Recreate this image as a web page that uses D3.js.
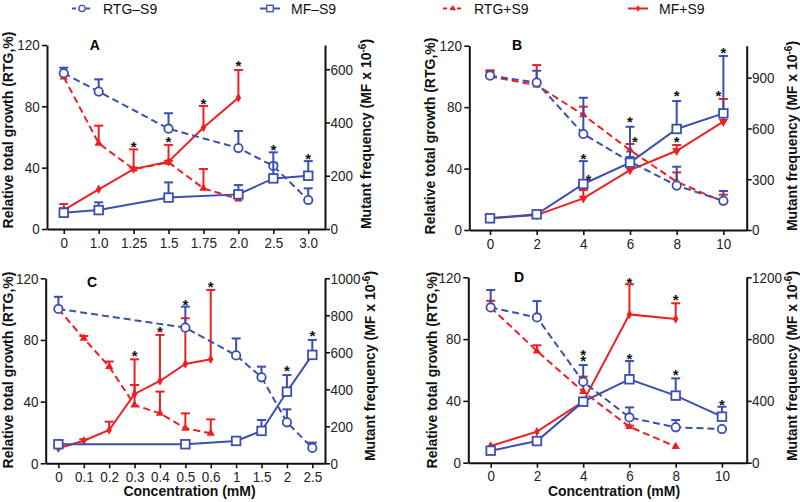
<!DOCTYPE html>
<html><head><meta charset="utf-8">
<script src="https://cdn.jsdelivr.net/npm/d3@7"></script>
<style>
html,body{margin:0;padding:0;background:#fff;}
svg{display:block;}
</style>
</head><body>
<svg id="chart" width="800" height="502"></svg>
<script>
// ---------------- DATA ----------------
// Panel A (categorical concentrations)
const concA = ["0","1.0","1.25","1.5","1.75","2.0","2.5","3.0"];
const rtgMinusA    = [101.6, 89.6, null, 65.4, null, 52.8, 41.1, 18.9];
const rtgMinusErrA = [3.6, 8.0, null, 10.1, null, 11.1, 2, 7.6];
const mfMinusA     = [61, 71, null, 118, null, 130, 190, 200];
const mfMinusErrA  = [17, 29, null, 57, null, 35, 98, 55];
const rtgPlusA     = [99, 55.9, 39, 43.5, 26.5, 19.5, null, null];
const rtgPlusErrA  = [2, 11.5, 1, 1, 12.6, 2, null, null];
const mfPlusA      = [71, 149, 225, 253, 381, 493, null, null];
const mfPlusErrA   = [23, 0, 74, 63, 81, 104, null, null];
const starXA = ["1.25","1.5","1.75","2.0","2.5","3.0"];
const starYA = [55.4, 58.7, 83.7, 108, 53.7, 47.8];
const starSideA = [0,0,0,0,0,0];

// Panel B (numeric concentrations)
const concB = [0, 2, 4, 6, 8, 10];
const rtgMinusB    = [100.5, 96, 62.5, 44.5, 28.9, 19];
const rtgMinusErrB = [2.5, 7.7, 23.6, 3, 12.3, 6.4];
const mfMinusB     = [69, 92.6, 272, 398, 597, 689];
const mfMinusErrB  = [0, 0, 135, 212, 165, 339];
const rtgPlusB     = [100, 94.4, 74.9, 52, 31.4, 18.4];
const rtgPlusErrB  = [4, 13, 5.4, 4, 6.1, 4.6];
const mfPlusB      = [69, 88, 187, 354, 468, 640];
const mfPlusErrB   = [0, 0, 49, 0, 34, 134];
const starXB = [4, 4, 6, 6, 8, 8, 10, 10];
const starYB = [48.2, 34.7, 72.3, 59, 89, 59, 117.2, 89.4];
const starSideB = [0, 1, 0, 1, 0, 0, 0, -1];

// Panel C (categorical concentrations)
const concC = ["0","0.1","0.2","0.3","0.4","0.5","0.6","1","1.5","2","2.5"];
const rtgMinusC    = [100.1, null, null, null, null, 88, null, 70, 55.8, 26.6, 10];
const rtgMinusErrC = [7.9, null, null, null, null, 13.6, null, 11, 6.9, 8.4, 3.4];
const mfMinusC     = [103, null, null, null, null, 103, null, 121, 175, 387, 586];
const mfMinusErrC  = [0, null, null, null, null, 0, null, 0, 59, 90, 81];
const rtgPlusC     = [100, 81, 62.7, 37.8, 32.4, 22.7, 19.5, null, null, null, null];
const rtgPlusErrC  = [0, 1.6, 3.3, 13, 14.1, 9.7, 9, null, null, null, null];
const mfPlusC      = [81, 122, 180, 375, 445, 537, 562, null, null, null, null];
const mfPlusErrC   = [0, 8, 45, 187, 249, 247, 375, null, null, null, null];
const starXC = ["0.3","0.4","0.5","0.6","2","2.5"];
const starYC = [71.7, 86.9, 104.8, 116, 61.6, 84.3];
const starSideC = [0,0,0,0,0,0];

// Panel D (numeric concentrations)
const concD = [0, 2, 4, 6, 8, 10];
const rtgMinusD    = [100.5, 94, 52.4, 29.3, 22.9, 21.8];
const rtgMinusErrD = [11.3, 10.6, 10.8, 6.5, 4.7, 0.7];
const mfMinusD     = [78, 140, 395, 540, 434, 298];
const mfMinusErrD  = [0, 0, 0, 118, 112, 64];
const rtgPlusD     = [100.5, 72.3, 46, 23.3, 10.4, null];
const rtgPlusErrD  = [4.3, 3.7, 9.7, 0.7, 0, null];
const mfPlusD      = [108, 201, 395, 960, 930, null];
const mfPlusErrD   = [0, 0, 0, 195, 102, null];
const starXD = [4, 4, 6, 6, 8, 8, 10];
const starYD = [71.8, 67.6, 118.2, 69, 107.4, 58.5, 39.1];
const starSideD = [0,0,0,0,0,0,0];

const leftTicks = [0, 40, 80, 120];
const rightTicksA = [0, 200, 400, 600];
const rightTicksB = [0, 300, 600, 900];
const rightTicksC = [0, 200, 400, 600, 800, 1000];
const rightTicksD = [0, 400, 800, 1200];

const legendLabels = ["RTG–S9", "MF–S9", "RTG+S9", "MF+S9"];

// ---------------- STYLE ----------------
const BLUE = "#3b4fb0";
const RED = "#ee1f23";
const FONT = "'Liberation Sans', Arial, Helvetica, sans-serif";
const svg = d3.select("#chart");

function marker(sel, shape, color) {
  if (shape === "circle") {
    sel.append("circle").attr("r", 4.2).attr("fill", "#fff").attr("stroke", color).attr("stroke-width", 1.8);
  } else if (shape === "square") {
    sel.append("rect").attr("x", -4.3).attr("y", -4.3).attr("width", 8.6).attr("height", 8.6)
      .attr("fill", "#fff").attr("stroke", color).attr("stroke-width", 1.8);
  } else if (shape === "up") {
    sel.append("path").attr("d", d3.symbol(d3.symbolTriangle, 30)()).attr("fill", color);
  } else if (shape === "down") {
    sel.append("path").attr("d", d3.symbol(d3.symbolTriangle, 36)()).attr("transform", "rotate(180)").attr("fill", color);
  } else if (shape === "diamond") {
    sel.append("path").attr("d", d3.symbol(d3.symbolDiamond, 26)()).attr("fill", color);
  }
}

function drawPanel(cfg) {
  const g = svg.append("g");
  const yL = d3.scaleLinear().domain([0, 120]).range([cfg.bottom, cfg.top]);
  const yR = d3.scaleLinear().domain([0, cfg.rMax]).range([cfg.bottom, cfg.top]);
  const x = cfg.cats
    ? d3.scalePoint().domain(cfg.cats).range([cfg.left, cfg.right]).padding(cfg.pad)
    : d3.scaleLinear().domain(cfg.xDom).range([cfg.left, cfg.right]);
  const xs = cfg.cats || cfg.xVals;

  // axes
  const axL = g.append("g").attr("transform", `translate(${cfg.left},0)`)
    .call(d3.axisLeft(yL).tickValues(leftTicks).tickSize(5).tickPadding(3).tickSizeOuter(0));
  const axR = g.append("g").attr("transform", `translate(${cfg.right},0)`)
    .call(d3.axisRight(yR).tickValues(cfg.rTicks).tickFormat(d3.format("d"))
      .tickSize(5).tickPadding(1).tickSizeOuter(0));
  const axB = g.append("g").attr("transform", `translate(0,${cfg.bottom})`)
    .call((cfg.cats ? d3.axisBottom(x) : d3.axisBottom(x).tickValues(cfg.xVals).tickFormat(d3.format("d")))
      .tickSize(5).tickPadding(3).tickSizeOuter(0));
  [axL, axR, axB].forEach(a => {
    a.select(".domain").attr("stroke", "#111").attr("stroke-width", 2);
    a.selectAll(".tick line").attr("stroke", "#111").attr("stroke-width", 1.6);
    a.selectAll(".tick text").style("font-family", FONT).style("font-size", "15px")
      .attr("fill", "#222").attr("transform", "scale(0.9,1)");
  });

  const series = [
    { v: cfg.rtgPlus, e: cfg.rtgPlusErr, y: yL, color: RED, dash: "7,4", shape: "up" },
    { v: cfg.mfPlus, e: cfg.mfPlusErr, y: yR, color: RED, dash: null, shape: cfg.mfPlusShape },
    { v: cfg.rtgMinus, e: cfg.rtgMinusErr, y: yL, color: BLUE, dash: "7,4", shape: "circle" },
    { v: cfg.mfMinus, e: cfg.mfMinusErr, y: yR, color: BLUE, dash: null, shape: "square" }
  ];

  series.forEach(s => {
    const pts = xs.map((c, i) => ({ c, v: s.v[i], e: s.e[i] })).filter(p => p.v != null);
    const sg = g.append("g");
    // error bars
    pts.filter(p => p.e > 0).forEach(p => {
      const px = x(p.c), y0 = s.y(p.v), y1 = s.y(p.v + p.e);
      sg.append("line").attr("x1", px).attr("x2", px).attr("y1", y0).attr("y2", y1)
        .attr("stroke", s.color).attr("stroke-width", 2);
      sg.append("line").attr("x1", px - 4.5).attr("x2", px + 4.5).attr("y1", y1).attr("y2", y1)
        .attr("stroke", s.color).attr("stroke-width", 2);
    });
    // line
    sg.append("path").datum(pts)
      .attr("d", d3.line().x(p => x(p.c)).y(p => s.y(p.v)))
      .attr("fill", "none").attr("stroke", s.color).attr("stroke-width", 2)
      .attr("stroke-dasharray", s.dash);
    // markers
    pts.forEach(p => {
      const mg = sg.append("g").attr("transform", `translate(${x(p.c)},${s.y(p.v)})`);
      marker(mg, s.shape, s.color);
    });
  });

  // significance stars
  cfg.starX.forEach((c, i) => {
    g.append("text").attr("x", x(c) + cfg.starSide[i] * 5).attr("y", yL(cfg.starY[i]) + 8)
      .attr("text-anchor", "middle").style("font-family", FONT).style("font-size", "15px")
      .style("font-weight", "bold").attr("fill", "#111").text("*");
  });

  // panel letter
  g.append("text").attr("x", cfg.letterX).attr("y", cfg.letterY).attr("text-anchor", "middle")
    .style("font-family", FONT).style("font-size", "14px").style("font-weight", "bold").text(cfg.letter);

  // left title
  g.append("text").attr("transform", `translate(${cfg.ltX},${cfg.ltY}) rotate(-90)`)
    .attr("text-anchor", "middle").style("font-family", FONT).style("font-size", "14px")
    .style("font-weight", "bold").attr("fill", "#111").text("Relative total growth (RTG,%)");
  // right title
  const rt = g.append("text").attr("transform", `translate(${cfg.rtX},${cfg.rtY}) rotate(-90)`)
    .attr("text-anchor", "middle").style("font-family", FONT).style("font-size", "14px")
    .style("font-weight", "bold").attr("fill", "#111");
  rt.append("tspan").text("Mutant frequency (MF x 10");
  rt.append("tspan").attr("dy", -5).style("font-size", "10px").text("-6");
  rt.append("tspan").attr("dy", 5).text(")");

  if (cfg.xTitleX) {
    g.append("text").attr("x", cfg.xTitleX).attr("y", 496).attr("text-anchor", "middle")
      .style("font-family", FONT).style("font-size", "14px").style("font-weight", "bold")
      .attr("fill", "#111").text("Concentration (mM)");
  }
}

drawPanel({
  left: 47, right: 325, top: 45, bottom: 229, rMax: 691, rTicks: rightTicksA,
  cats: concA, pad: 0.48, mfPlusShape: "diamond",
  rtgMinus: rtgMinusA, rtgMinusErr: rtgMinusErrA, mfMinus: mfMinusA, mfMinusErr: mfMinusErrA,
  rtgPlus: rtgPlusA, rtgPlusErr: rtgPlusErrA, mfPlus: mfPlusA, mfPlusErr: mfPlusErrA,
  starX: starXA, starY: starYA, starSide: starSideA,
  letter: "A", letterX: 94.7, letterY: 50, ltX: 13, ltY: 130, rtX: 371, rtY: 134
});
drawPanel({
  left: 469.3, right: 746.7, top: 45.7, bottom: 230, rMax: 1089, rTicks: rightTicksB,
  xVals: concB, xDom: [-0.887, 11.0], mfPlusShape: "down",
  rtgMinus: rtgMinusB, rtgMinusErr: rtgMinusErrB, mfMinus: mfMinusB, mfMinusErr: mfMinusErrB,
  rtgPlus: rtgPlusB, rtgPlusErr: rtgPlusErrB, mfPlus: mfPlusB, mfPlusErr: mfPlusErrB,
  starX: starXB, starY: starYB, starSide: starSideB,
  letter: "B", letterX: 517, letterY: 50, ltX: 435, ltY: 136, rtX: 797, rtY: 136
});
drawPanel({
  left: 45.7, right: 325, top: 278.3, bottom: 463.3, rMax: 1000, rTicks: rightTicksC,
  cats: concC, pad: 0.5, mfPlusShape: "diamond",
  rtgMinus: rtgMinusC, rtgMinusErr: rtgMinusErrC, mfMinus: mfMinusC, mfMinusErr: mfMinusErrC,
  rtgPlus: rtgPlusC, rtgPlusErr: rtgPlusErrC, mfPlus: mfPlusC, mfPlusErr: mfPlusErrC,
  starX: starXC, starY: starYC, starSide: starSideC,
  letter: "C", letterX: 92, letterY: 287, ltX: 13, ltY: 370, rtX: 375, rtY: 366, xTitleX: 189.5
});
drawPanel({
  left: 468.3, right: 746.7, top: 277.3, bottom: 462.7, rMax: 1200, rTicks: rightTicksD,
  xVals: concD, xDom: [-0.968, 11.07], mfPlusShape: "diamond",
  rtgMinus: rtgMinusD, rtgMinusErr: rtgMinusErrD, mfMinus: mfMinusD, mfMinusErr: mfMinusErrD,
  rtgPlus: rtgPlusD, rtgPlusErr: rtgPlusErrD, mfPlus: mfPlusD, mfPlusErr: mfPlusErrD,
  starX: starXD, starY: starYD, starSide: starSideD,
  letter: "D", letterX: 519, letterY: 282, ltX: 437, ltY: 370, rtX: 797, rtY: 366, xTitleX: 614
});

// legend
const legX = [72, 260, 443, 628];
const legShapes = ["circle", "square", "up", "diamond"];
const legColors = [BLUE, BLUE, RED, RED];
const legDash = ["4,3", null, "4,3", null];
const lg = svg.append("g");
legendLabels.forEach((lab, i) => {
  const gi = lg.append("g").attr("transform", `translate(${legX[i]},8.5)`);
  gi.append("line").attr("x1", 0).attr("x2", 20).attr("stroke", legColors[i]).attr("stroke-width", 2)
    .attr("stroke-dasharray", legDash[i]);
  const mg = gi.append("g").attr("transform", "translate(10,0) scale(0.75)");
  marker(mg, legShapes[i], legColors[i]);
  gi.append("text").attr("x", 31).attr("y", 5).style("font-family", FONT).style("font-size", "14px")
    .attr("fill", "#111").text(lab);
});
</script>
</body></html>
